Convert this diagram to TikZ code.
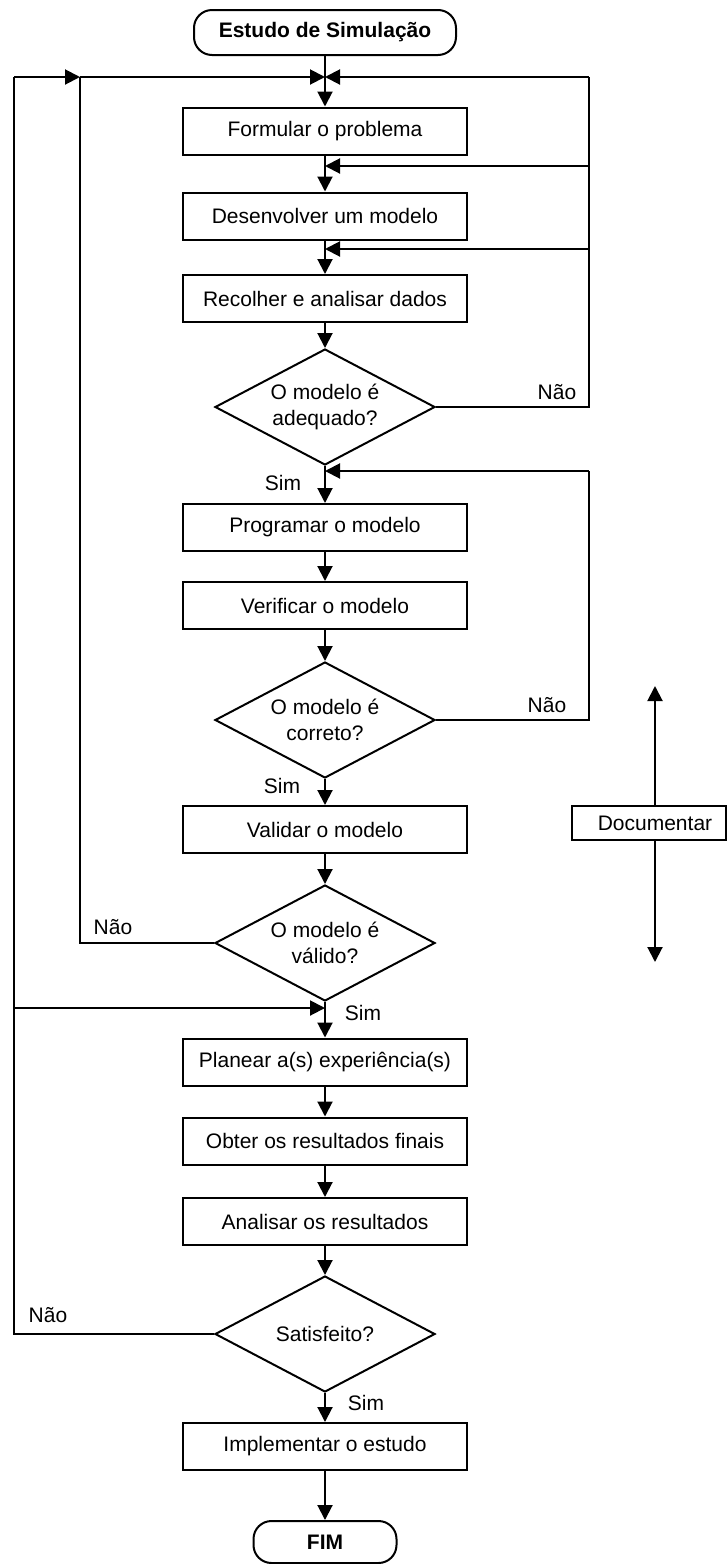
\documentclass[tikz,border=0pt]{standalone}
\usepackage{fontspec}
\setmainfont{Liberation Sans}
\usetikzlibrary{shapes.geometric,arrows.meta}
\begin{document}
\begin{tikzpicture}[x=1pt,y=-1pt,
  every node/.style={font=\fontsize{21}{26}\selectfont},
  stepbox/.style={draw,line width=2pt,minimum width=284pt,minimum height=47pt,inner sep=0pt},
  decision/.style={draw,diamond,line width=2pt,minimum width=220pt,minimum height=116pt,inner sep=0pt,aspect=1.9,align=center},
  terminal/.style={draw,rounded corners=18pt,line width=2pt,inner sep=0pt,font=\fontsize{21}{26}\selectfont\bfseries},
  flow/.style={line width=2pt,-{Triangle[length=15pt,width=15pt]}},
  line/.style={line width=2pt},
  lbl/.style={inner sep=0pt}
]
\fill[white] (0,0) rectangle (727,1564);
\useasboundingbox (0,0) rectangle (727,1564);

% terminals
\node[terminal,minimum width=262pt,minimum height=45pt] (start) at (325,32.5) {Estudo de Simulação};
\node[terminal,minimum width=143pt,minimum height=42pt] (fim) at (325,1542) {FIM};

% process boxes
\node[stepbox] (form) at (325,131) {Formular o problema};
\node[stepbox] (des) at (325,216) {Desenvolver um modelo};
\node[stepbox] (rec) at (325,298.5) {Recolher e analisar dados};
\node[decision] (ad) at (325,407) {O modelo é\\adequado?};
\node[stepbox] (prog) at (325,527.5) {Programar o modelo};
\node[stepbox] (ver) at (325,605.5) {Verificar o modelo};
\node[decision] (cor) at (325,720) {O modelo é\\correto?};
\node[stepbox] (vali) at (325,829.5) {Validar o modelo};
\node[decision] (val) at (325,943) {O modelo é\\válido?};
\node[stepbox] (plan) at (325,1062) {Planear a(s) experiência(s)};
\node[stepbox] (obt) at (325,1141) {Obter os resultados finais};
\node[stepbox] (ana) at (325,1221.5) {Analisar os resultados};
\node[decision] (sat) at (325,1334) {Satisfeito?};
\node[stepbox] (imp) at (325,1446.5) {Implementar o estudo};

% merge points and loop columns
\coordinate (m1) at (325,77);
\coordinate (m2) at (325,166);
\coordinate (m3) at (325,249);
\coordinate (m4) at (325,471);
\coordinate (m5) at (325,1008);
\coordinate (R) at (589,0);
\coordinate (L1) at (80,0);
\coordinate (L0) at (14,0);

% main flow
\draw[flow] (start.south) -- (form.north);
\draw[flow] (form.south) -- (des.north);
\draw[flow] (des.south) -- (rec.north);
\draw[flow] (rec.south) -- (ad.north);
\draw[flow] (ad.south) -- (prog.north);
\draw[flow] (prog.south) -- (ver.north);
\draw[flow] (ver.south) -- (cor.north);
\draw[flow] (cor.south) -- (vali.north);
\draw[flow] (vali.south) -- (val.north);
\draw[flow] (val.south) -- (plan.north);
\draw[flow] (plan.south) -- (obt.north);
\draw[flow] (obt.south) -- (ana.north);
\draw[flow] (ana.south) -- (sat.north);
\draw[flow] (sat.south) -- (imp.north);
\draw[flow] (imp.south) -- (fim.north);

% loop: adequado? Não
\draw[line] (ad.east) -- (ad.east -| R) -- (m1 -| R);
\draw[flow] (m1 -| R) -- (m1);
\draw[flow] (m2 -| R) -- (m2);
\draw[flow] (m3 -| R) -- (m3);
% loop: correto? Não
\draw[line] (cor.east) -- (cor.east -| R) -- (m4 -| R);
\draw[flow] (m4 -| R) -- (m4);
% loop: válido? Não
\draw[line] (val.west) -- (val.west -| L1) -- (m1 -| L1);
\draw[flow] (m1 -| L1) -- (m1);
% loop: Satisfeito? Não
\draw[line] (sat.west) -- (sat.west -| L0) -- (m1 -| L0);
\draw[flow] (m1 -| L0) -- (m1 -| L1);
\draw[flow] (m5 -| L0) -- (m5);

% labels
\node[lbl] (n1) at (557,392) {Não};
\node[lbl] (n2) at (547,705) {Não};
\node[lbl] (n3) at (113,927) {Não};
\node[lbl] (n4) at (48,1315) {Não};
\node[lbl] (s1) at (283,483) {Sim};
\node[lbl] (s2) at (282,786) {Sim};
\node[lbl] (s3) at (363,1013) {Sim};
\node[lbl] (s4) at (366,1403) {Sim};

% Documentar
\node[draw,line width=2pt,minimum width=154pt,minimum height=34pt,inner sep=0pt] (doc) at (649,823) {};
\node[inner sep=0pt] (doctext) at (655,823) {Documentar};
\coordinate (dtop) at (655,686);
\coordinate (dbot) at (655,962);
\draw[flow] (doc.north -| doctext) -- (dtop);
\draw[flow] (doc.south -| doctext) -- (dbot);
\end{tikzpicture}
\end{document}
